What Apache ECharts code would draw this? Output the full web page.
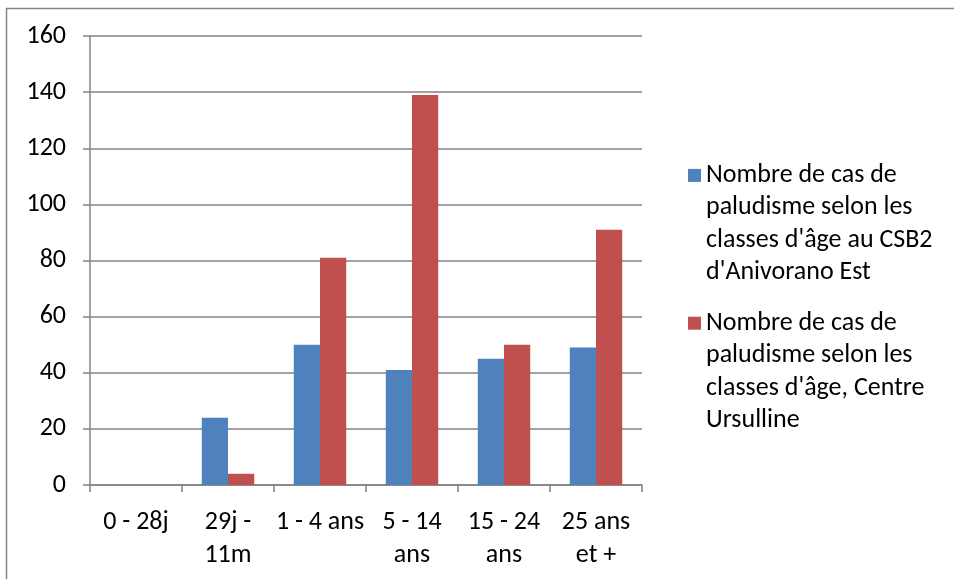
<!DOCTYPE html>
<html>
<head>
<meta charset="utf-8">
<script src="https://cdn.jsdelivr.net/npm/echarts@6/dist/echarts.min.js"></script>
<style>
html,body{margin:0;padding:0;background:#fff;}
#chart{width:954px;height:579px;}
</style>
</head>
<body>
<div id="chart"></div>
<script>
const categories = ["0 - 28j", "29j -\n11m", "1 - 4 ans", "5 - 14\nans", "15 - 24\nans", "25 ans\net +"];
const seriesNames = [
  "Nombre de cas de\npaludisme selon les\nclasses d'âge au CSB2\nd'Anivorano Est",
  "Nombre de cas de\npaludisme selon les\nclasses d'âge, Centre\nUrsulline"
];
const csb2Values = [0, 24, 50, 41, 45, 49];
const ursullineValues = [0, 4, 81, 139, 50, 91];
const yTicks = [0, 20, 40, 60, 80, 100, 120, 140, 160];

const FONT = "Carlito, Calibri, 'Liberation Sans', sans-serif";
const GRAY = '#838383';

const chart = echarts.init(document.getElementById('chart'), null, {renderer: 'canvas'});
chart.setOption({
  animation: false,
  backgroundColor: '#ffffff',
  textStyle: {fontFamily: FONT},
  graphic: [{
    type: 'rect',
    shape: {x: 6.5, y: 8.5, width: 1000, height: 600},
    style: {fill: 'none', stroke: GRAY, lineWidth: 1.5},
    silent: true
  }],
  grid: {left: 90, right: 312, top: 36, bottom: 94, containLabel: false},
  legend: {
    orient: 'vertical',
    left: 688,
    top: 62,
    padding: 0,
    itemGap: -79,
    itemWidth: 13,
    itemHeight: 13,
    icon: 'rect',
    selectedMode: false,
    data: seriesNames,
    formatter: name => '\n\n\n' + name,
    textStyle: {
      fontFamily: FONT,
      fontSize: 26,
      color: '#000',
      lineHeight: 32.4
    }
  },
  xAxis: {
    type: 'category',
    data: categories,
    axisLine: {show: true, lineStyle: {color: GRAY, width: 1.5}},
    axisTick: {show: true, length: 7, inside: false, alignWithLabel: false, lineStyle: {color: GRAY, width: 1.5}},
    axisLabel: {interval: 0, color: '#000', fontFamily: FONT, fontSize: 26, lineHeight: 33, margin: 21},
    splitLine: {show: false}
  },
  yAxis: {
    type: 'value',
    min: 0,
    max: 160,
    interval: 20,
    axisLine: {show: true, lineStyle: {color: GRAY, width: 1.5}},
    axisTick: {show: true, length: 7, inside: false, lineStyle: {color: GRAY, width: 1.5}},
    axisLabel: {color: '#000', fontFamily: FONT, fontSize: 26, margin: 24,
      formatter: v => yTicks.includes(v) ? String(v) : ''},
    splitLine: {show: true, lineStyle: {color: GRAY, width: 1.5}}
  },
  series: [
    {
      name: seriesNames[0],
      type: 'bar',
      data: csb2Values,
      barWidth: '28.5%',
      barGap: '0%',
      itemStyle: {color: '#4f81bd'}
    },
    {
      name: seriesNames[1],
      type: 'bar',
      data: ursullineValues,
      barWidth: '28.5%',
      barGap: '0%',
      itemStyle: {color: '#c0504d'}
    }
  ]
});
</script>
</body>
</html>
